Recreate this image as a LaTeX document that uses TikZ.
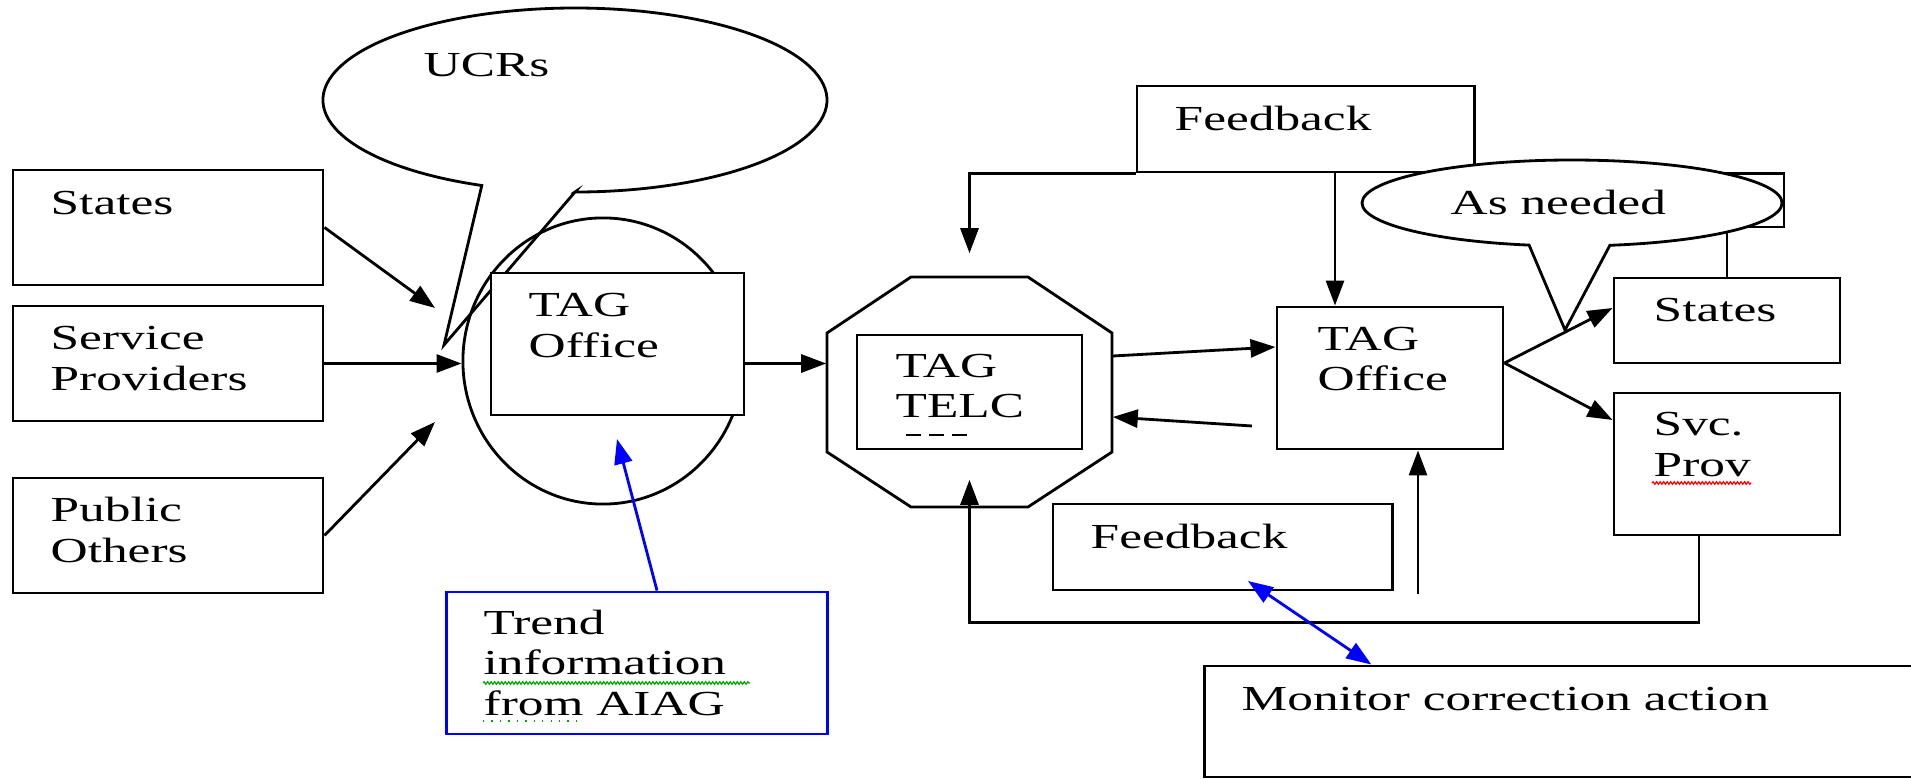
\documentclass[tikz,border=0pt]{standalone}
\usepackage{fontspec}
\setmainfont{Liberation Serif}[FakeStretch=1.46]
\usetikzlibrary{shapes.geometric, arrows.meta, positioning, calc, decorations.pathmorphing}
\tikzstyle{box} = [rectangle, draw=black, line width=0.8pt, fill=white, inner sep=0pt]
\tikzstyle{bubble} = [draw=black, line width=0.8pt, fill=white]
\tikzstyle{txt} = [anchor=base west, inner sep=0pt, align=left, font=\fontsize{10pt}{11.5pt}\selectfont]
\tikzstyle{conn} = [line width=0.8pt]
\tikzstyle{arrow} = [line width=0.8pt,->,>={Stealth[inset=0pt,length=2.5mm,width=1.8mm]}]
\tikzstyle{spell} = [line width=0.35pt, decorate, decoration={snake, segment length=1pt, amplitude=0.35pt}]

\begin{document}
\begin{tikzpicture}[x=0.01cm, y=-0.01cm]
    \useasboundingbox (0,0) rectangle (1911,779);

    % 左侧输入
    \node (statesL) [box, minimum width=3.10cm, minimum height=1.15cm] at (168,227.5) {};
    \node (spp) [box, minimum width=3.10cm, minimum height=1.15cm] at (168,363.5) {};
    \node (pub) [box, minimum width=3.10cm, minimum height=1.15cm] at (168,535.5) {};
    \node (statesLT) [txt] at (50,215) {States};
    \node (sppT) [txt] at (50,390) {Service\\Providers};
    \node (pubT) [txt] at (50,562) {Public\\Others};

    % UCRs 气泡
    \draw [bubble] (575,192) -- (444,345) -- (481.8,185.5)
        arc[start angle=111.7, end angle=450, x radius=252, y radius=92] -- cycle;
    \node (ucrT) [txt] at (423,77) {UCRs};

    % TAG Office (左)
    \node (circ) [ellipse, draw=black, line width=0.8pt, inner sep=0pt, minimum width=2.80cm, minimum height=2.86cm] at (603,361) {};
    \node (tagL) [box, minimum width=2.53cm, minimum height=1.42cm] at (617.5,344) {};
    \node (tagLT) [txt] at (528,357) {TAG\\Office};

    % TAG TELC 八边形
    \node (telc) [rectangle, inner sep=0pt, minimum width=2.85cm, minimum height=2.30cm] at (969.5,392) {};
    \draw [conn] (911,277) -- (1028,277) -- (1112,333) -- (1112,452) -- (1028,507)
        -- (911,507) -- (827,452) -- (827,333) -- cycle;
    \node (telcIn) [box, minimum width=2.25cm, minimum height=1.14cm] at (969.5,392) {};
    \node (telcT) [txt] at (895,418) {TAG\\TELC};
    \draw [conn, dash pattern=on 0.15cm off 0.08cm] (906,435) -- (967,435);

    % 右侧
    \node (fbTop) [box, minimum width=3.37cm, minimum height=0.86cm] at (1305.5,129) {};
    \node (fbTopT) [txt] at (1174,131) {Feedback};
    \node (tagR) [box, minimum width=2.26cm, minimum height=1.42cm] at (1390,378) {};
    \node (tagRT) [txt] at (1317,391) {TAG\\Office};
    \node (statesR) [box, minimum width=2.26cm, minimum height=0.85cm] at (1727,320.5) {};
    \node (statesRT) [txt] at (1653,322) {States};
    \node (svc) [box, minimum width=2.26cm, minimum height=1.42cm] at (1727,464) {};
    \node (svcT) [txt] at (1653,476) {Svc.\\Prov};
    \draw [spell, red] (1652,483) -- (1751,483);

    \coordinate (needC) at (1784,227);
    \draw [conn] (statesR.north) |- (needC) |- (fbTop.south east);

    % As needed 气泡
    \draw [bubble] (1609.9,245.3) -- (1565,330) -- (1529.1,245.1)
        arc[start angle=101.8, end angle=439.6, x radius=210, y radius=43] -- cycle;
    \node (needT) [txt] at (1450,215) {As needed};

    % 下方
    \node (fbBot) [box, minimum width=3.39cm, minimum height=0.86cm] at (1222.5,547) {};
    \node (fbBotT) [txt] at (1090,548) {Feedback};
    \node (monitor) [box, minimum width=7.20cm, minimum height=1.11cm] at (1565,721.5) {};
    \node (monitorT) [txt] at (1241,710) {Monitor correction action};
    \node (trend) [box, draw=blue, minimum width=3.80cm, minimum height=1.42cm] at (637,663) {};
    \node (trendT) [txt] at (483,715) {Trend\\information\\from AIAG};
    \draw [spell, green!65!black] (483,683) -- (750,683);
    \draw [line width=0.4pt, green!65!black, dotted] (483,721) -- (582,721);

    % 连接线
    \coordinate (inS) at (435,308);
    \coordinate (inP) at (435,422);
    \coordinate (backS) at (1252,426);
    \coordinate (upS) at (1418,594);
    \coordinate (trendE) at (617,439);
    \coordinate (fbA) at (1248,581);
    \draw [arrow] (statesL.east) -- (inS);
    \draw [arrow] (spp.east) -- (spp.east -| circ.west);
    \draw [arrow] (pub.east) -- (inP);
    \draw [arrow] (tagL.east |- spp.east) -- (telc.west |- spp.east);
    \draw [arrow] ($(telc.east)+(0,-36)$) -- ($(tagR.west)+(0,-31)$);
    \draw [arrow] (backS) -- ($(telc.east)+(0,25)$);
    \draw [arrow] (fbTop.south west) -| ($(telc.north)+(0,-23)$);
    \draw [arrow] ($(fbTop.south)+(29.5,0)$) coordinate (fbX) -- (fbX |- tagR.north);
    \draw [arrow] ($(tagR.east)+(0,-15)$) -- ($(statesR.west)+(0,-12.5)$);
    \draw [arrow] ($(tagR.east)+(0,-15)$) -- ($(svc.west)+(0,-44)$);
    \draw [arrow] (upS) -- (upS |- tagR.south);
    \draw [arrow] ($(svc.south)+(-28,0)$) -- ++(0,86) -| ($(telc.south)+(0,-28)$);
    \draw [arrow, blue] ($(trend.north)+(20,0)$) -- (trendE);
    \draw [arrow, blue, <->] (fbA) -- ($(monitor.north west)+(168,0)$);
\end{tikzpicture}
\end{document}
